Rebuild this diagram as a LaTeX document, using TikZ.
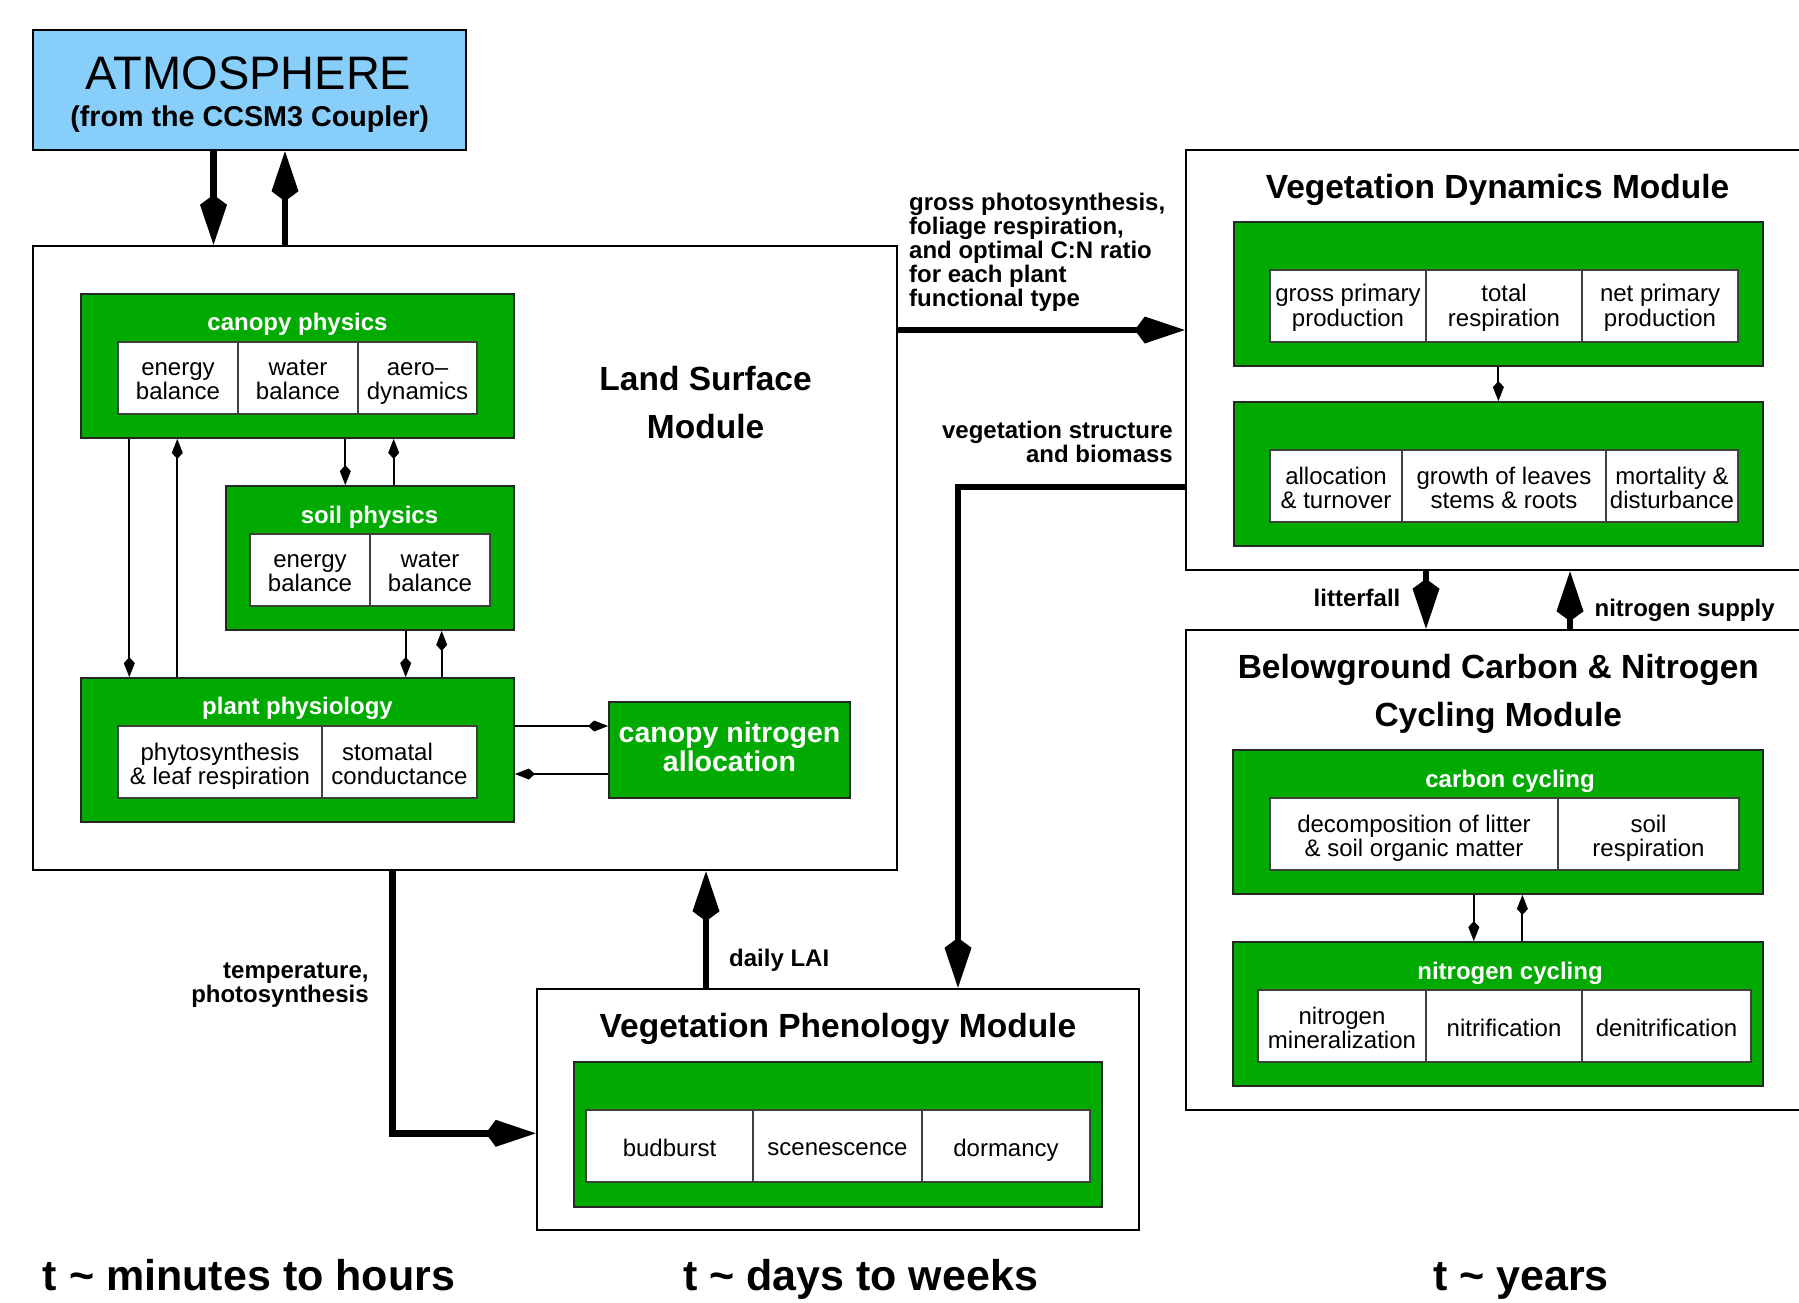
\documentclass[tikz,border=0pt]{standalone}
\usepackage{fontspec}
\setmainfont{Liberation Sans}
\usetikzlibrary{arrows.meta}
\definecolor{gbox}{RGB}{0,170,0}
\definecolor{atmblue}{RGB}{135,206,250}
\newcommand\fs[2]{\fontsize{#1}{#2}\selectfont}
\newcommand\boxnode[7][]{\node[#1, minimum width={(#5)-(#3)}, minimum height={(#6)-(#4)}] (#2) at ({((#3)+(#5))/2},{((#4)+(#6))/2}) {#7};}
\newcommand\ctext[2][11.4pt]{\raisebox{-#1}[0pt][0pt]{\begin{tabular}{@{}c@{}}#2\end{tabular}}}
\newcommand\cellnode[7][11.4pt]{\boxnode[cellbox]{#2}{#3}{#4}{#5}{#6}{\ctext[#1]{#7}}}
\tikzset{
 modbox/.style={draw=black, line width=2.5pt, fill=white, inner sep=0pt},
 atmbox/.style={draw=black, line width=2.5pt, fill=atmblue, inner sep=0pt},
 greenbox/.style={draw=black!85, line width=1.8pt, fill=gbox, inner sep=0pt},
 cellbox/.style={draw=black!75, line width=1.5pt, fill=white, inner sep=0pt, font=\fs{24}{23}},
 gtitle/.style={text=white, font=\bfseries\fs{24}{24}, inner sep=0pt},
 modtitle/.style={align=center, inner sep=0pt},
 flowlabel/.style={font=\bfseries\fs{24}{24.1}, inner sep=0pt},
 timelabel/.style={font=\bfseries\fs{43}{43}, inner sep=0pt},
 bigflow/.style={line width=6.5pt, -{Kite[length=50pt,width=27pt,inset=10pt]}},
 smallflow/.style={line width=2pt, -{Kite[length=20pt,width=11pt,inset=6pt]}},
}
\begin{document}
\begin{tikzpicture}[x=1pt,y=-1pt]
\useasboundingbox[fill=white] (0,0) rectangle (1799,1302);

% Atmosphere
\boxnode[atmbox]{atm}{33}{30}{466}{150}{}
\node[font=\fs{47}{47}, inner sep=0pt] (atmtitle) at (248.5,73.5) {ATMOSPHERE};
\node[font=\bfseries\fs{28.7}{28.7}, inner sep=0pt] (atmsub) at (249.7,119.5) {(from the CCSM3 Coupler)};

% Land surface module
\boxnode[modbox]{lsm}{33}{246}{897}{870}{}
\node[modtitle, font=\bfseries\fs{33.5}{48.2}] (lsmtitle) at (705.6,402.7) {Land Surface\\Module};

\boxnode[greenbox]{canopy}{81}{294}{514}{438}{}
\node[gtitle] (canopytitle) at (297.5,324) {canopy physics};
\cellnode{cpa}{118}{342}{238}{414}{energy\\balance}
\cellnode{cpb}{238}{342}{358}{414}{water\\balance}
\cellnode{cpc}{358}{342}{477}{414}{aero--\\dynamics}

\boxnode[greenbox]{soil}{226}{486}{514}{630}{}
\node[gtitle] (soiltitle) at (369.5,516.8) {soil physics};
\cellnode{spa}{250}{534}{370}{606}{energy\\balance}
\cellnode{spb}{370}{534}{490}{606}{water\\balance}

\boxnode[greenbox]{plant}{81}{678}{514}{822}{}
\node[gtitle] (planttitle) at (297.5,708.3) {plant physiology};
\cellnode{ppa}{118}{726}{322}{798}{phytosynthesis\\\& leaf respiration}
\cellnode{ppb}{322}{726}{477}{798}{stomatal\kern24pt\\conductance}

\boxnode[greenbox, text=white, font=\bfseries\fs{28.5}{29}]{cna}{609}{702}{850}{798}{\ctext[7.5pt]{canopy nitrogen\\allocation}}

% Vegetation dynamics
\boxnode[modbox]{vdm}{1186}{150}{1812}{570}{}
\node[modtitle, font=\bfseries\fs{33.5}{45}] (vdmtitle) at (1497.5,190) {Vegetation Dynamics Module};
\boxnode[greenbox]{vdone}{1234}{222}{1763}{366}{}
\cellnode[9.1pt]{vda}{1270}{270}{1426}{342}{gross primary\\production}
\cellnode[9.1pt]{vdb}{1426}{270}{1582}{342}{total\\respiration}
\cellnode[9.1pt]{vdc}{1582}{270}{1738}{342}{net primary\\production}
\boxnode[greenbox]{vdtwo}{1234}{402}{1763}{546}{}
\cellnode{vdd}{1270}{450}{1402}{522}{allocation\\\& turnover}
\cellnode{vde}{1402}{450}{1606}{522}{growth of leaves\\stems \& roots}
\cellnode{vdf}{1606}{450}{1738}{522}{mortality \&\\disturbance}

% Belowground
\boxnode[modbox]{bgc}{1186}{630}{1812}{1110}{}
\node[modtitle, font=\bfseries\fs{33.5}{48.4}] (bgctitle) at (1498.3,694) {Belowground Carbon \& Nitrogen\\Cycling Module};
\boxnode[greenbox]{carbon}{1233}{750}{1763}{894}{}
\node[gtitle] (carbontitle) at (1510,780.9) {carbon cycling};
\cellnode{cca}{1270}{798}{1558}{870}{decomposition of litter\\\& soil organic matter}
\cellnode{ccb}{1558}{798}{1739}{870}{soil\\respiration}
\boxnode[greenbox]{nitro}{1233}{942}{1763}{1086}{}
\node[gtitle] (nitrotitle) at (1510,973) {nitrogen cycling};
\cellnode{nca}{1258}{990}{1426}{1062}{nitrogen\\mineralization}
\cellnode{ncb}{1426}{990}{1582}{1062}{nitrification}
\cellnode{ncc}{1582}{990}{1751}{1062}{denitrification}

% Phenology
\boxnode[modbox]{phen}{537}{989}{1139}{1230}{}
\node[modtitle, font=\bfseries\fs{33.5}{45}] (phentitle) at (837.9,1029) {Vegetation Phenology Module};
\boxnode[greenbox]{phgreen}{574}{1062}{1102}{1207}{}
\cellnode{pha}{586}{1110}{753}{1182}{budburst}
\cellnode{phb}{753}{1110}{922}{1182}{scenescence}
\cellnode{phc}{922}{1110}{1090}{1182}{dormancy}

% Connectors
\draw[bigflow] (213.5,0 |- atm.south) -- (213.5,0 |- lsm.north);
\draw[bigflow] (285,0 |- lsm.north) -- (285,0 |- atm.south);
\draw[smallflow] (129.3,0 |- canopy.south) -- (129.3,0 |- plant.north);
\draw[smallflow] (177.3,0 |- plant.north) -- (177.3,0 |- canopy.south);
\draw[smallflow] (345.3,0 |- canopy.south) -- (345.3,0 |- soil.north);
\draw[smallflow] (393.7,0 |- soil.north) -- (393.7,0 |- canopy.south);
\draw[smallflow] (405.7,0 |- soil.south) -- (405.7,0 |- plant.north);
\draw[smallflow] (441.7,0 |- plant.north) -- (441.7,0 |- soil.south);
\draw[smallflow] (0,726 -| plant.east) -- (0,726 -| cna.west);
\draw[smallflow] (0,774 -| cna.west) -- (0,774 -| plant.east);
\draw[bigflow] (0,330 -| lsm.east) -- (0,330 -| vdm.west);
\draw[bigflow] (0,487 -| vdm.west) -| (958,0 |- phen.north);
\draw[bigflow] (392.4,0 |- lsm.south) |- (0,1133.3 -| phen.west);
\draw[bigflow] (706,0 |- phen.north) -- (706,0 |- lsm.south);
\draw[bigflow] (1426,0 |- vdm.south) -- (1426,0 |- bgc.north);
\draw[bigflow] (1570,0 |- bgc.north) -- (1570,0 |- vdm.south);
\draw[smallflow] (1498.4,0 |- vdone.south) -- (1498.4,0 |- vdtwo.north);
\draw[smallflow] (1473.8,0 |- carbon.south) -- (1473.8,0 |- nitro.north);
\draw[smallflow] (1522.4,0 |- nitro.north) -- (1522.4,0 |- carbon.south);

% Labels
\node[flowlabel, anchor=west, align=left] (lblgross) at (909,252.2) {gross photosynthesis,\\foliage respiration,\\and optimal C:N ratio\\for each plant\\functional type};
\node[flowlabel, anchor=east, align=right] (lblstruct) at (1173,441.5) {vegetation structure\\and biomass};
\node[flowlabel, anchor=east, align=right] (lbltemp) at (368.8,985.5) {temperature,\\photosynthesis};
\node[flowlabel, anchor=west] (lbllai) at (729,960) {daily LAI};
\node[flowlabel, anchor=east] (lbllitter) at (1400.6,597.5) {litterfall};
\node[flowlabel, anchor=west] (lblnsup) at (1594.4,610) {nitrogen supply};

\node[timelabel, anchor=base] (tone) at (249,1290) {t \textasciitilde{} minutes to hours};
\node[timelabel, anchor=base] (ttwo) at (860.5,1290) {t \textasciitilde{} days to weeks};
\node[timelabel, anchor=base] (tthree) at (1521,1290) {t \textasciitilde{} years};
\end{tikzpicture}
\end{document}
